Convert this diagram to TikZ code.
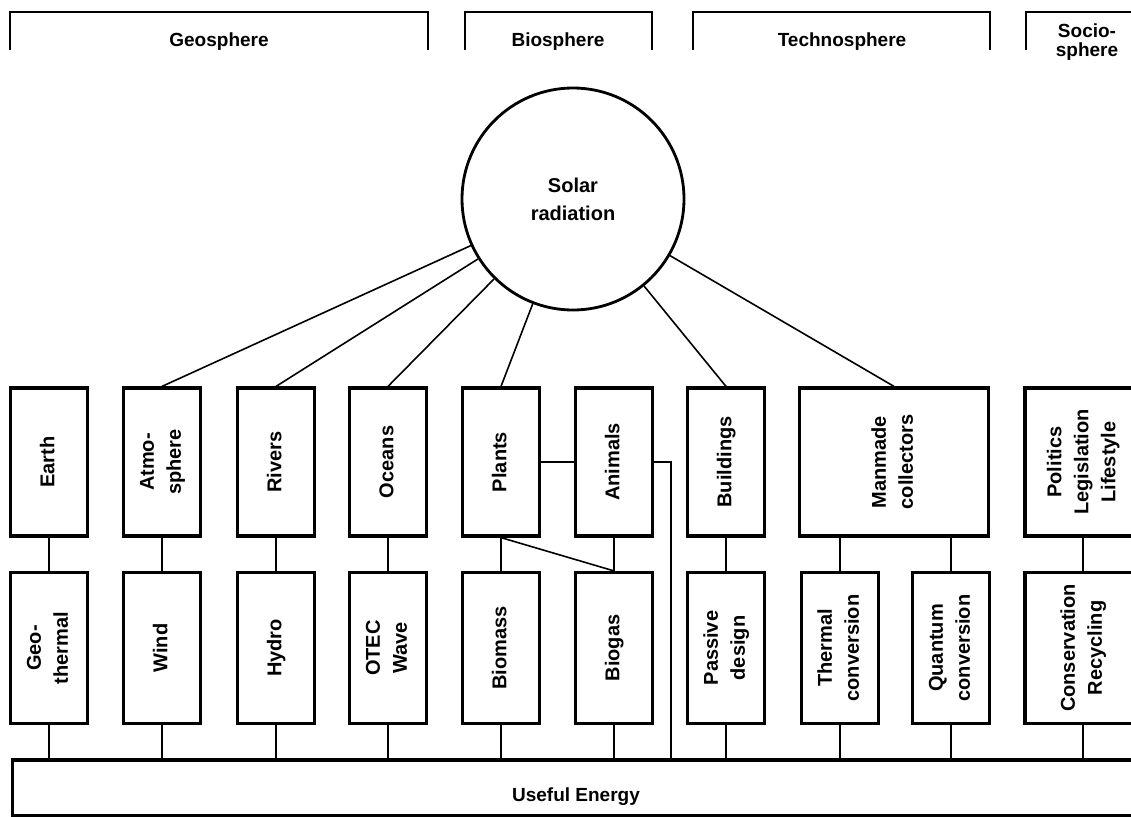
\documentclass[tikz,border=0pt]{standalone}
\usepackage{fontspec}
\setmainfont{Liberation Sans}
\usepackage{graphicx}

\newcommand{\uptext}[1]{\rotatebox{90}{\begin{tabular}{@{}c@{}}#1\end{tabular}}}

\begin{document}
\begin{tikzpicture}[x=1pt, y=-1pt, font=\bfseries\fontsize{20}{27}\selectfont,
box/.style={draw, line width=3.2pt, inner sep=0pt, minimum width=77pt},
toprow/.style={box, minimum height=148pt},
lowrow/.style={box, minimum height=151pt},
link/.style={line width=1.6pt},
bracket/.style={line width=2.8pt},
spherelabel/.style={font=\bfseries\fontsize{19}{19}\selectfont, align=center}]
\path[use as bounding box] (0,0) rectangle (1131,816);
\clip (0,0) rectangle (1131,816);

\draw[bracket] (10,50) |- (428,12) -- (428,50);
\draw[bracket] (465,50) |- (652,12) -- (652,50);
\draw[bracket] (693,50) |- (990,12) -- (990,50);
\draw[bracket] (1026,50) |- (1145,12) -- (1145,50);
\node[spherelabel] (geosphere) at (219,42) {Geosphere};
\node[spherelabel] (biosphere) at (558,42) {Biosphere};
\node[spherelabel] (technosphere) at (842,42) {Technosphere};
\node[spherelabel] (sociosphere) at (1087,42) {Socio-\\sphere};

\node[draw, circle, line width=2.8pt, minimum size=222pt, inner sep=0pt, align=center,
  font=\bfseries\fontsize{20}{28}\selectfont] (sun) at (573,199) {Solar\\radiation};

\node[toprow] (earth) at (49,462) {\uptext{Earth}};
\node[toprow] (atmo) at (162,462) {\uptext{Atmo-\\sphere}};
\node[toprow] (rivers) at (276,462) {\uptext{Rivers}};
\node[toprow] (oceans) at (388,462) {\uptext{Oceans}};
\node[toprow] (plants) at (501,462) {\uptext{Plants}};
\node[toprow] (animals) at (614,462) {\uptext{Animals}};
\node[toprow] (buildings) at (726,462) {\uptext{Buildings}};
\node[toprow, minimum width=189pt] (manmade) at (894,462) {\uptext{Manmade\\collectors}};
\node[toprow, minimum width=116pt] (politics) at (1083,462) {\uptext{Politics\\Legislation\\Lifestyle}};

\node[lowrow] (geo) at (49,648) {\uptext{Geo-\\thermal}};
\node[lowrow] (wind) at (162,648) {\uptext{Wind}};
\node[lowrow] (hydro) at (276,648) {\uptext{Hydro}};
\node[lowrow] (otec) at (388,648) {\uptext{OTEC\\Wave}};
\node[lowrow] (biomass) at (501,648) {\uptext{Biomass}};
\node[lowrow] (biogas) at (614,648) {\uptext{Biogas}};
\node[lowrow] (passive) at (726,648) {\uptext{Passive\\design}};
\node[lowrow] (thermal) at (840,648) {\uptext{Thermal\\conversion}};
\node[lowrow] (quantum) at (951,648) {\uptext{Quantum\\conversion}};
\node[lowrow, minimum width=116pt] (conserv) at (1083,648) {\uptext{Conservation\\Recycling}};

\node[box, minimum width=1127pt, minimum height=56pt, text height=27pt, text depth=0pt,
  font=\bfseries\fontsize{19}{19}\selectfont] (energy) at (576,788) {Useful Energy};

% solar radiation to the spheres
\draw[link] (sun) -- (atmo.north);
\draw[link] (sun) -- (rivers.north);
\draw[link] (sun) -- (oceans.north);
\draw[link] (sun) -- (plants.north);
\draw[link] (sun) -- (buildings.north);
\draw[link] (sun) -- (manmade.north);

\draw[link] (earth) -- (geo);
\draw[link] (atmo) -- (wind);
\draw[link] (rivers) -- (hydro);
\draw[link] (oceans) -- (otec);
\draw[link] (plants) -- (biomass);
\draw[link] (plants.south) -- (biogas.north);
\draw[link] (plants) -- (animals);
\draw[link] (animals) -- (biogas);
\draw[link] (buildings) -- (passive);
\draw[link] (manmade.south -| thermal) -- (thermal);
\draw[link] (manmade.south -| quantum) -- (quantum);
\draw[link] (politics) -- (conserv);
\coordinate (drop) at (671,760);
\draw[link] (animals.east) -| (drop);

% into useful energy
\draw[link] (geo) -- (geo |- energy.north);
\draw[link] (wind) -- (wind |- energy.north);
\draw[link] (hydro) -- (hydro |- energy.north);
\draw[link] (otec) -- (otec |- energy.north);
\draw[link] (biomass) -- (biomass |- energy.north);
\draw[link] (biogas) -- (biogas |- energy.north);
\draw[link] (passive) -- (passive |- energy.north);
\draw[link] (thermal) -- (thermal |- energy.north);
\draw[link] (quantum) -- (quantum |- energy.north);
\draw[link] (conserv) -- (conserv |- energy.north);
\end{tikzpicture}
\end{document}
